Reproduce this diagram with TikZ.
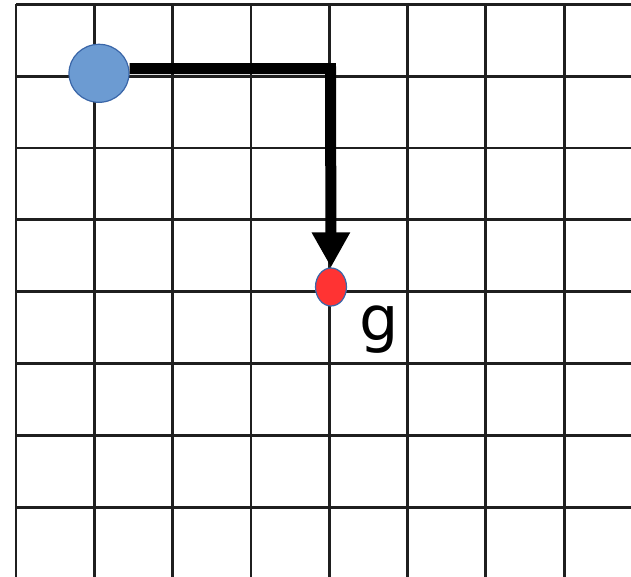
\documentclass[tikz,border=0pt]{standalone}
\usepackage{fontspec}
\setmainfont{DejaVu Sans}
\usetikzlibrary{arrows.meta,shapes.geometric}
\definecolor{blueFill}{HTML}{6C9BD2}
\definecolor{blueEdge}{HTML}{3A66A8}
\definecolor{redFill}{HTML}{FF3333}
\tikzset{
  gridline/.style={line width=2.8pt, draw=black!88},
  pathline/.style={line width=11pt, draw=black, line join=miter, -{Triangle[length=35pt,width=36pt]}},
  dot/.style={ellipse, draw=blueEdge, line width=1.2pt, inner sep=0pt},
}
\begin{document}
\begin{tikzpicture}[x=1pt,y=-1pt]
\useasboundingbox (0,0) rectangle (631,577);
% grid
\foreach \i in {0,...,7} {
  \draw[gridline] ({16+78.3*\i},4.5) -- ({16+78.3*\i},577);
}
\foreach \j in {0,...,7} {
  \draw[gridline] (16,{4.5+71.8*\j}) -- (631,{4.5+71.8*\j});
}
% nodes
\node[dot, fill=blueFill, minimum width=60pt, minimum height=58pt] (s) at (99,73.3) {};
\node[dot, fill=redFill, minimum width=31pt, minimum height=38pt] (g) at (331,287) {};
\node[anchor=base west, inner sep=0pt, font=\fontsize{62}{62}\selectfont] (gl) at (359,340) {g};
% path
\coordinate (c) at (330.5,68.7);
\draw[pathline] (s.east |- c) -- (c) -- (g.north);
\end{tikzpicture}
\end{document}
